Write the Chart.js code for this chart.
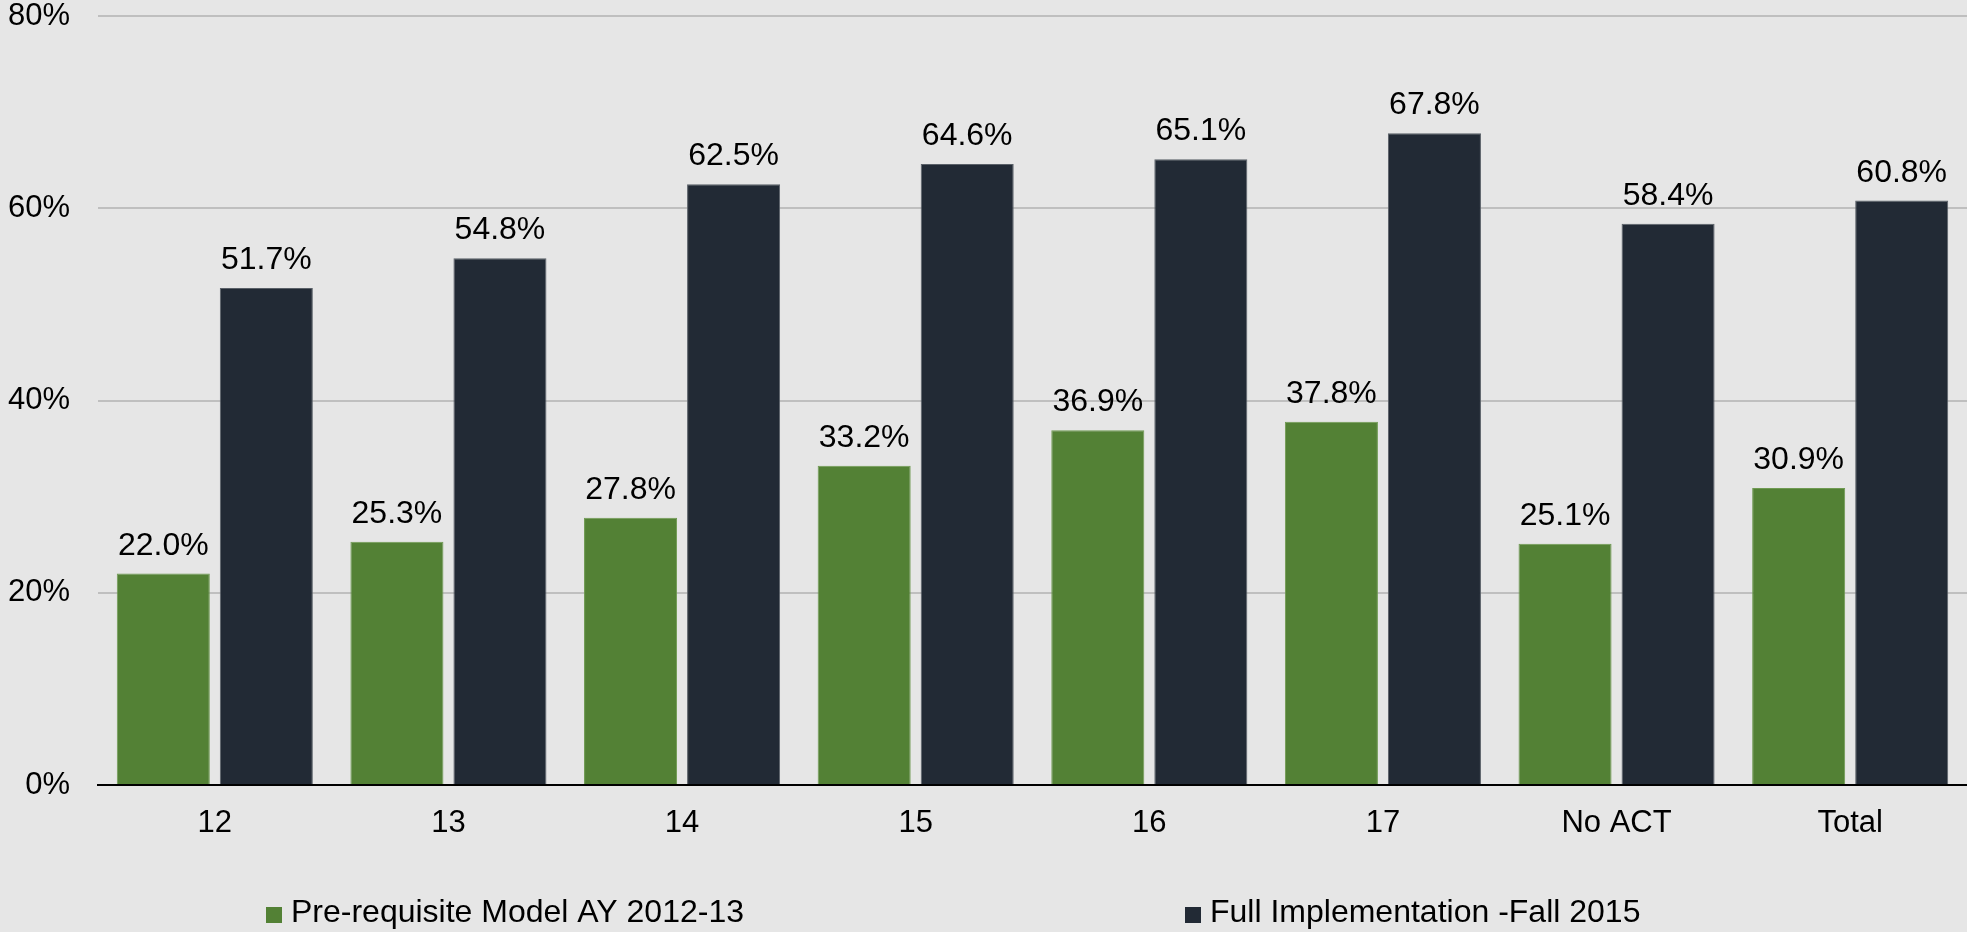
<!DOCTYPE html>
<html>
<head>
<meta charset="utf-8">
<script src="https://cdn.jsdelivr.net/npm/chart.js@4"></script>
<style>
  html, body { margin: 0; padding: 0; background: #e6e6e6; }
  #wrap { width: 1967px; height: 932px; }
</style>
</head>
<body>
<div id="wrap"><canvas id="chart" width="1967" height="932"></canvas></div>
<script>
// categories and values
const categories = ['12', '13', '14', '15', '16', '17', 'No ACT', 'Total'];
const prereqValues = [22.0, 25.3, 27.8, 33.2, 36.9, 37.8, 25.1, 30.9];
const fullValues = [51.7, 54.8, 62.5, 64.6, 65.1, 67.8, 58.4, 60.8];
const seriesNames = ['Pre-requisite Model AY 2012-13', 'Full Implementation -Fall 2015'];
const yTicks = [0, 20, 40, 60, 80];

const FONT = 'Arial, "Liberation Sans", sans-serif';
const FSIZE = 31;

// value labels above the bars
const valueLabels = {
  id: 'valueLabels',
  afterDatasetsDraw(chart) {
    const ctx = chart.ctx;
    ctx.save();
    ctx.font = '32px ' + FONT;
    ctx.fillStyle = '#000';
    ctx.textAlign = 'center';
    ctx.textBaseline = 'alphabetic';
    chart.data.datasets.forEach((ds, i) => {
      chart.getDatasetMeta(i).data.forEach((bar, j) => {
        ctx.fillText(ds.data[j].toFixed(1) + '%', bar.x, bar.y - 19);
      });
    });
    ctx.restore();
  }
};

// legend drawn at the bottom like the original
const bottomLegend = {
  id: 'bottomLegend',
  afterDraw(chart) {
    const ctx = chart.ctx;
    const xs = [266, 1185];
    ctx.save();
    ctx.font = '32px ' + FONT;
    ctx.textBaseline = 'middle';
    ctx.textAlign = 'left';
    chart.data.datasets.forEach((ds, i) => {
      ctx.fillStyle = ds.backgroundColor;
      ctx.fillRect(xs[i], 907, 16, 16);
      ctx.fillStyle = '#000';
      ctx.fillText(ds.label, xs[i] + 25, 913);
    });
    ctx.restore();
  }
};

new Chart(document.getElementById('chart').getContext('2d'), {
  type: 'bar',
  data: {
    labels: categories,
    datasets: [{
      label: seriesNames[0],
      data: prereqValues,
      backgroundColor: '#538135',
      borderColor: '#6f9a52',
      borderWidth: 1,
      barPercentage: 0.903,
      categoryPercentage: 0.882
    }, {
      label: seriesNames[1],
      data: fullValues,
      backgroundColor: '#222a35',
      borderColor: '#5a6068',
      borderWidth: 1,
      barPercentage: 0.903,
      categoryPercentage: 0.882
    }]
  },
  options: {
    responsive: false,
    animation: false,
    layout: { padding: { top: 16, right: 0, left: 0, bottom: 0 } },
    plugins: {
      legend: { display: false },
      tooltip: { enabled: false }
    },
    scales: {
      x: {
        grid: { display: false, drawTicks: false },
        border: { display: true, color: '#000', width: 2 },
        ticks: { color: '#000', font: { size: FSIZE, family: FONT }, padding: 20 },
        afterFit(scale) { scale.height = 147; scale.paddingLeft = 0; scale.paddingRight = 0; }
      },
      y: {
        min: 0,
        max: 80,
        afterBuildTicks(scale) { scale.ticks = yTicks.map(v => ({ value: v })); },
        grid: { color: '#bfbfbf', lineWidth: 2, drawTicks: false },
        border: { display: false },
        ticks: {
          color: '#000',
          font: { size: FSIZE, family: FONT },
          padding: 28,
          callback: v => v + '%'
        },
        afterFit(scale) { scale.width = 98; scale.paddingTop = 0; scale.paddingBottom = 0; }
      }
    }
  },
  plugins: [valueLabels, bottomLegend]
});
</script>
</body>
</html>
